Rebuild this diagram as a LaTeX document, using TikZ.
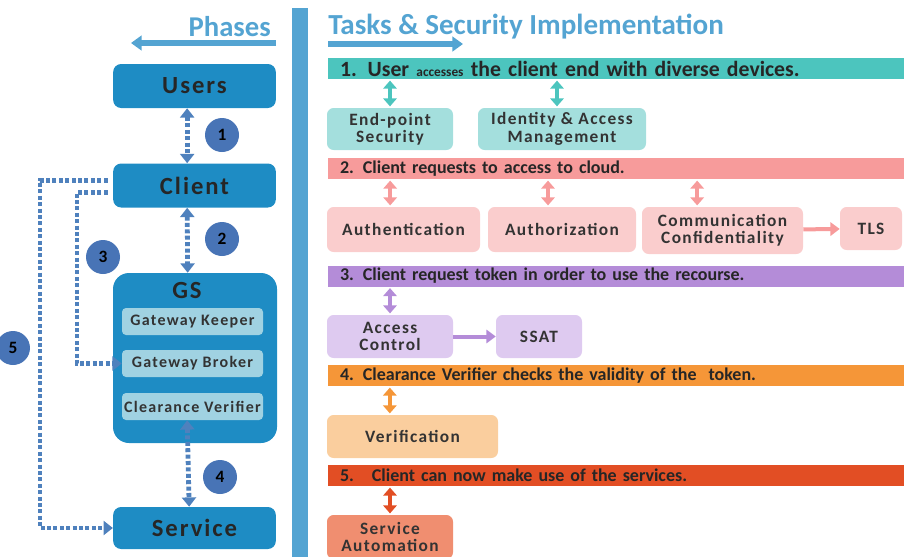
\documentclass[tikz,border=0pt]{standalone}
\usepackage{fontspec}
\setmainfont{Carlito}
\newfontfamily\boxfont[LetterSpace=8]{Carlito}
\usetikzlibrary{arrows.meta,positioning}

\definecolor{hdblue}{RGB}{84,164,210}
\definecolor{phblue}{RGB}{30,140,196}
\definecolor{gsinner}{RGB}{160,210,226}
\definecolor{dotblue}{RGB}{79,129,189}
\definecolor{numblue}{RGB}{72,116,182}
\definecolor{tealband}{RGB}{76,197,190}
\definecolor{tealbox}{RGB}{164,223,221}
\definecolor{pinkband}{RGB}{247,155,155}
\definecolor{pinkbox}{RGB}{250,205,205}
\definecolor{purpband}{RGB}{180,140,216}
\definecolor{purpbox}{RGB}{222,202,240}
\definecolor{orgband}{RGB}{245,150,56}
\definecolor{orgbox}{RGB}{250,206,158}
\definecolor{redband}{RGB}{226,78,36}
\definecolor{redbox}{RGB}{240,142,112}

\begin{document}
\begin{tikzpicture}[x=0.75pt, y=-0.75pt,
    phase/.style={fill=phblue, rounded corners=6pt,
      minimum width=122pt, minimum height=33pt, inner sep=0pt,
      font=\boxfont\bfseries\fontsize{18.5}{19}\selectfont, text=black!85},
    gsbox/.style={fill=gsinner, rounded corners=3pt,
      minimum width=105.75pt, minimum height=20.25pt, inner sep=0pt,
      font=\boxfont\bfseries\fontsize{12}{13}\selectfont, text=black!80},
    num/.style={circle, fill=numblue, minimum size=25.5pt, inner sep=0pt,
      font=\bfseries\fontsize{13}{13}\selectfont},
    band/.style={minimum height=15.75pt, inner xsep=9pt, inner ysep=0pt,
      text width=414pt, align=left,
      font=\bfseries\fontsize{13.5}{14}\selectfont, text=black!85},
    task/.style={rounded corners=5pt, align=center, inner sep=0pt,
      font=\boxfont\bfseries\fontsize{13}{13}\selectfont, text=black!80},
    head/.style={hdblue, line width=5pt, -{Triangle[width=11pt,length=8pt]}},
    dotdbl/.style={dotblue, line width=3.6pt, dash pattern=on 3pt off 1.8pt,
      {Triangle[width=10.5pt,length=7pt]}-{Triangle[width=10.5pt,length=7pt]}},
    dotone/.style={dotblue, line width=3.6pt, dash pattern=on 3pt off 1.8pt,
      -{Triangle[width=10.5pt,length=7pt]}},
    dbl/.style={draw=#1, line width=3pt, shorten <=1pt, shorten >=1pt,
      {Triangle[width=10pt,length=6pt]}-{Triangle[width=10pt,length=6pt]}},
    one/.style={draw=#1, line width=3pt, -{Triangle[width=10pt,length=7pt]}}]
  \useasboundingbox (0,0) rectangle (907,557);
  % === headers and divider ===
  \fill[hdblue] (292,8) rectangle (308,557);
  \node[font=\bfseries\fontsize{21.5}{22}\selectfont, text=hdblue, anchor=east, inner sep=0pt] (phases) at (271,27) {Phases};
  \node[font=\bfseries\fontsize{21.8}{22}\selectfont, text=hdblue, anchor=west, inner sep=0pt] (tasks) at (328,27) {Tasks \& Security Implementation};
  \coordinate (pha) at (276,43);
  \coordinate (phb) at (131,43);
  \coordinate (tka) at (328,44);
  \coordinate (tkb) at (463,44);
  \draw[head] (pha) -- (phb);
  \draw[head] (tka) -- (tkb);
  % === Phases column ===
  \node[phase] (users)  at (194.5,86)  {Users\hspace{10pt}};
  \node[phase] (client) at (194.5,185.5) {Client\hspace{10pt}};
  \node[phase, minimum width=123pt, minimum height=127.5pt, rounded corners=12pt] (gs) at (195,358) {};
  \node[font=\boxfont\bfseries\fontsize{18.5}{19}\selectfont, text=black!85] (gslbl) at (187,290) {GS};
  \node[gsbox] (gk) at (192.5,321.5) {Gateway Keeper};
  \node[gsbox] (gb) at (192.5,363.5) {Gateway Broker};
  \node[gsbox] (cv) at (192.5,406.5) {Clearance Verifier};
  \node[phase, minimum height=31.5pt] (service) at (194.5,528) {Service\hspace{4pt}};
  % === phase links ===
  \draw[dotdbl] ([xshift=-5.5pt]users.south) -- ([xshift=-5.5pt]client.north);
  \draw[dotdbl] ([xshift=-5.5pt]client.south) -- ([xshift=-5.5pt]gs.north);
  \draw[dotdbl] ([xshift=-4pt]cv.south) -- ([xshift=-4pt]service.north);
  \coordinate (c3) at (77,280);
  \coordinate (c5) at (40,350);
  \draw[dotone] ([shift={(-4pt,-5pt)}]client.west) -| (c3) |- (gb.west);
  \draw[dotone] ([shift={(-4pt,4pt)}]client.west) -| (c5) |- (service.west);
  \node[num] (n1) at (222,135) {1};
  \node[num] (n2) at (222,239) {2};
  \node[num] (n3) at (103,257) {3};
  \node[num] (n4) at (220,477) {4};
  \node[num] (n5) at (13,348)  {5};
  % === Tasks column: bands ===
  \node[band, fill=tealband, font=\bfseries\fontsize{16.3}{16.3}\selectfont] (b1) at (616,68.5)
    {1. User {\fontsize{10}{10}\selectfont accesses} the client end with diverse devices.};
  \node[band, fill=pinkband] (b2) at (616,168.5) {2. Client requests to access to cloud.};
  \node[band, fill=purpband] (b3) at (616,276)   {3. Client request token in order to use the recourse.};
  \node[band, fill=orgband]  (b4) at (616,375.5) {4. Clearance Verifier checks the validity of the\ \ token.};
  \node[band, fill=redband]  (b5) at (616,475.5) {5.\ \ \ Client can now make use of the services.};
  % === Tasks column: boxes ===
  \node[task, fill=tealbox, minimum width=94.5pt, minimum height=31.5pt] (eps) at (390,129) {End-point\\Security};
  \node[task, fill=tealbox, minimum width=126pt, minimum height=31.5pt] (iam) at (562,129) {Identity \& Access\\Management};
  \node[task, fill=pinkbox, minimum width=114.75pt, minimum height=33.75pt] (authn) at (403.5,229.5) {Authentication};
  \node[task, fill=pinkbox, minimum width=111pt, minimum height=33.75pt] (authz) at (562,229.5) {Authorization};
  \node[task, fill=pinkbox, minimum width=120.75pt, minimum height=35.25pt] (comm) at (722.5,230.5) {Communication\\Confidentiality};
  \node[task, fill=pinkbox, minimum width=46.5pt, minimum height=32.25pt] (tls) at (871,228.5) {TLS};
  \node[task, fill=purpbox, minimum width=94.5pt, minimum height=32.25pt] (acc) at (390,336.5) {Access\\Control};
  \node[task, fill=purpbox, minimum width=64.5pt, minimum height=32.25pt] (ssat) at (539,336.5) {SSAT};
  \node[task, fill=orgbox, minimum width=128.25pt, minimum height=32.25pt] (ver) at (412.5,436.5) {Verification};
  \node[task, fill=redbox, minimum width=94.5pt, minimum height=33pt] (sa) at (390,537) {Service\\Automation};
  % === Tasks column: links ===
  \draw[dbl=tealband] (eps.north |- b1.south) -- (eps.north);
  \draw[dbl=tealband] ([xshift=-3.75pt]iam.north |- b1.south) -- ([xshift=-3.75pt]iam.north);
  \draw[dbl=pinkband] ([xshift=-10pt]authn.north |- b2.south) -- ([xshift=-10pt]authn.north);
  \draw[dbl=pinkband] ([xshift=-10.5pt]authz.north |- b2.south) -- ([xshift=-10.5pt]authz.north);
  \draw[dbl=pinkband] ([xshift=-19pt]comm.north |- b2.south) -- ([xshift=-19pt]comm.north);
  \draw[one=pinkband] (comm) -- (tls);
  \draw[dbl=purpband] (acc.north |- b3.south) -- (acc.north);
  \draw[one=purpband] (acc) -- (ssat);
  \draw[dbl=orgband] ([xshift=-17pt]ver.north |- b4.south) -- ([xshift=-17pt]ver.north);
  \draw[dbl=redband] (sa.north |- b5.south) -- (sa.north);
\end{tikzpicture}
\end{document}
